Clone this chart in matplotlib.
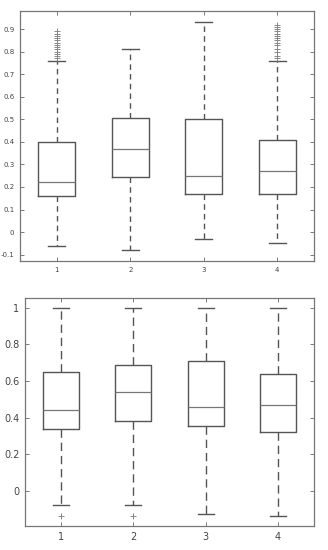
import matplotlib
matplotlib.use("Agg")
import matplotlib.pyplot as plt

positions = [1, 2, 3, 4]
labels = ["1", "2", "3", "4"]

# Top panel stats
top_whislo = [-0.06, -0.08, -0.03, -0.05]
top_q1 = [0.16, 0.245, 0.17, 0.17]
top_med = [0.22, 0.37, 0.25, 0.27]
top_q3 = [0.40, 0.505, 0.50, 0.41]
top_whishi = [0.76, 0.81, 0.93, 0.76]
top_fliers = [
    [0.77, 0.78, 0.79, 0.80, 0.81, 0.82, 0.83, 0.84, 0.85, 0.86, 0.87, 0.88, 0.89],
    [],
    [],
    [0.77, 0.78, 0.80, 0.81, 0.83, 0.84, 0.85, 0.86, 0.87, 0.88, 0.89, 0.90, 0.91, 0.92],
]
top_yticks = [-0.1, 0, 0.1, 0.2, 0.3, 0.4, 0.5, 0.6, 0.7, 0.8, 0.9]
top_yticklabels = ["-0.1", "0", "0.1", "0.2", "0.3", "0.4", "0.5", "0.6", "0.7", "0.8", "0.9"]

# Bottom panel stats
bot_whislo = [-0.078, -0.078, -0.128, -0.139]
bot_q1 = [0.336, 0.381, 0.352, 0.323]
bot_med = [0.44, 0.542, 0.456, 0.471]
bot_q3 = [0.65, 0.69, 0.71, 0.64]
bot_whishi = [1.0, 1.0, 1.0, 1.0]
bot_fliers = [[-0.137], [-0.137], [], []]
bot_yticks = [0, 0.2, 0.4, 0.6, 0.8, 1.0]
bot_yticklabels = ["0", "0.2", "0.4", "0.6", "0.8", "1"]

LINE = "#555555"
MED = "#777777"
FLIER = "#888888"
TXT = "#444444"


def make_stats(whislo, q1, med, q3, whishi, fliers):
    out = []
    for i in range(len(whislo)):
        out.append(dict(whislo=whislo[i], q1=q1[i], med=med[i], q3=q3[i],
                        whishi=whishi[i], fliers=fliers[i]))
    return out


def draw(ax, stats, ylim, yticks, yticklabels, fs, capw, fms, dash):
    ax.bxp(stats, positions=positions, widths=0.5, capwidths=capw,
           showfliers=True,
           boxprops=dict(color=LINE, linewidth=1.0),
           medianprops=dict(color=MED, linewidth=0.9),
           whiskerprops=dict(color=LINE, linewidth=1.0, linestyle=(0, dash)),
           capprops=dict(color=LINE, linewidth=1.0),
           flierprops=dict(marker="+", markeredgecolor=FLIER, markersize=fms,
                           markeredgewidth=0.7, linestyle="none"))
    ax.set_xlim(0.5, 4.5)
    ax.set_ylim(*ylim)
    ax.set_xticks(positions)
    ax.set_xticklabels(labels)
    ax.set_yticks(yticks)
    ax.set_yticklabels(yticklabels)
    ax.tick_params(direction="in", top=True, right=True, length=3,
                   width=0.6, color="#666666", labelsize=fs, labelcolor=TXT, pad=4)
    for s in ax.spines.values():
        s.set_color("#777777")
        s.set_linewidth(0.9)


fig = plt.figure(figsize=(3.28, 5.5), dpi=100)
W, H = 328.0, 550.0
ax1 = fig.add_axes([20 / W, 1 - 261 / H, 294 / W, 250 / H])
ax2 = fig.add_axes([25 / W, 1 - 526 / H, 289 / W, 228.3 / H])

draw(ax1, make_stats(top_whislo, top_q1, top_med, top_q3, top_whishi, top_fliers),
     (-0.128, 0.98), top_yticks, top_yticklabels, 5, 0.23, 4, (4, 3))
draw(ax2, make_stats(bot_whislo, bot_q1, bot_med, bot_q3, bot_whishi, bot_fliers),
     (-0.193, 1.056), bot_yticks, bot_yticklabels, 7, 0.22, 5, (6, 3.5))

fig.savefig("out.png", dpi=100)
